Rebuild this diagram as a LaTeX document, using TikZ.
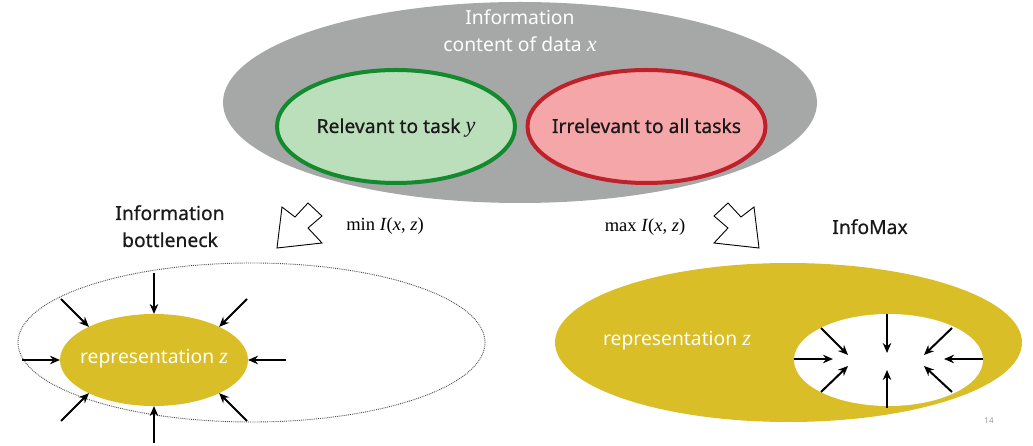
\documentclass[tikz,border=0pt]{standalone}
\usepackage{fontspec}
\setmainfont{Noto Sans}
\newfontfamily\darktext[FakeBold=0.6]{Noto Sans}
\newfontfamily\tms[Scale=1.15]{Liberation Serif}
\usetikzlibrary{shapes.geometric,arrows.meta}
\newcommand{\vr}[1]{{\tms\itshape #1}}
\definecolor{infogray}{HTML}{A5A8A6}
\definecolor{relfill}{HTML}{BCDFBB}
\definecolor{reledge}{HTML}{138A2E}
\definecolor{irrfill}{HTML}{F5A6A8}
\definecolor{irredge}{HTML}{BE2129}
\definecolor{gold}{HTML}{DABE27}
\definecolor{ink}{HTML}{1A1A1A}
\tikzset{
  blob/.style={ellipse, inner sep=0pt, outer sep=0pt},
  label/.style={anchor=base, inner sep=0pt, font=\fontsize{19.3bp}{27bp}\selectfont},
  inklabel/.style={label, text=ink, font=\fontsize{19.3bp}{27bp}\selectfont\darktext},
  formula/.style={anchor=base, inner sep=0pt, font=\fontsize{16.1bp}{27bp}\selectfont\tms},
  squeeze/.style={line width=2bp, -{Stealth[length=10bp,width=8.5bp]}, black},
  blockarrow/.style={draw=black, fill=white, line width=0.9bp, line join=miter},
}
\begin{document}
\begin{tikzpicture}[x=1bp,y=-1bp]
\useasboundingbox (0,0) rectangle (1033,446);

% information content of the data
\node[blob, fill=infogray, minimum width=594bp, minimum height=201bp] (info) at (520,102.5) {};
\node[label, text=white] (infoA) at (520,25) {Information};
\node[label, text=white] (infoB) at (520,52) {content of data \vr{x}};

\node[blob, fill=relfill, draw=reledge, line width=4bp, minimum width=238bp, minimum height=113bp] (rel) at (396,126.5) {};
\node[inklabel] (relT) at (396,133) {Relevant to task \vr{y}};
\node[blob, fill=irrfill, draw=irredge, line width=4bp, minimum width=238bp, minimum height=113bp] (irr) at (646.5,126.5) {};
\node[inklabel] (irrT) at (646.5,133) {Irrelevant to all tasks};

% the two directions
\draw[blockarrow] (282,207) -- (295,217) -- (308,203) -- (322,216) -- (308,228) -- (322,243) -- (277,248) -- cycle;
\draw[blockarrow] (754,207) -- (741,217) -- (728,203) -- (714,216) -- (728,228) -- (714,243) -- (759,248) -- cycle;
\node[formula] (minI) at (385,231) {min \textit{I}(\textit{x}, \textit{z})};
\node[formula] (maxI) at (645,232) {max \textit{I}(\textit{x}, \textit{z})};
\node[inklabel] (ibA) at (170,220) {Information};
\node[inklabel] (ibB) at (170,247) {bottleneck};
\node[inklabel] (imT) at (870,234) {InfoMax};

% information bottleneck: representation squeezed inward
\node[blob, draw=black!70, densely dotted, line width=0.9bp, minimum width=467bp, minimum height=159bp] (outer) at (251.5,342.5) {};
\node[blob, fill=gold, minimum width=188bp, minimum height=92bp] (rep) at (154,360) {};
\node[label, text=white] (repT) at (154,364) {representation \vr{z}};

\coordinate (sN) at (154,273);
\coordinate (sS) at (154,443);
\coordinate (sW) at (22,360);
\coordinate (sE) at (286,360);
\coordinate (sNW) at (61,299);
\coordinate (sNE) at (247,299);
\coordinate (sSW) at (61,421);
\coordinate (sSE) at (247,421);
\draw[squeeze] (sN) -- (rep.north);
\draw[squeeze] (sS) -- (rep.south);
\draw[squeeze] (sW) -- (rep.west);
\draw[squeeze] (sE) -- (rep.east);
\draw[squeeze] (sNW) -- (rep.153);
\draw[squeeze] (sNE) -- (rep.27);
\draw[squeeze] (sSW) -- (rep.207);
\draw[squeeze] (sSE) -- (rep.333);

% infomax: representation filling the space, hole shrinking
\node[blob, fill=gold, minimum width=467bp, minimum height=159bp] (repmax) at (788.5,342.5) {};
\node[blob, fill=white, minimum width=189bp, minimum height=92bp] (hole) at (888.5,360) {};
\node[label, text=white] (repmaxT) at (677,346) {representation \vr{z}};

\coordinate (hN) at (887,314);
\coordinate (hS) at (887,408);
\coordinate (hW) at (794,359);
\coordinate (hE) at (983,359);
\coordinate (hNW) at (821,328);
\coordinate (hNE) at (952,328);
\coordinate (hSW) at (821,392);
\coordinate (hSE) at (952,392);
\coordinate (eN) at (887,353);
\coordinate (eS) at (887,370);
\coordinate (eW) at (833,359);
\coordinate (eE) at (944,359);
\coordinate (eNW) at (848,355);
\coordinate (eNE) at (924,355);
\coordinate (eSW) at (848,366);
\coordinate (eSE) at (924,366);
\draw[squeeze] (hN) -- (eN);
\draw[squeeze] (hS) -- (eS);
\draw[squeeze] (hW) -- (eW);
\draw[squeeze] (hE) -- (eE);
\draw[squeeze] (hNW) -- (eNW);
\draw[squeeze] (hNE) -- (eNE);
\draw[squeeze] (hSW) -- (eSW);
\draw[squeeze] (hSE) -- (eSE);

\node[anchor=base, inner sep=0pt, text=black!40, font=\fontsize{8bp}{9bp}\selectfont] (pageno) at (989,423) {14};
\end{tikzpicture}
\end{document}
